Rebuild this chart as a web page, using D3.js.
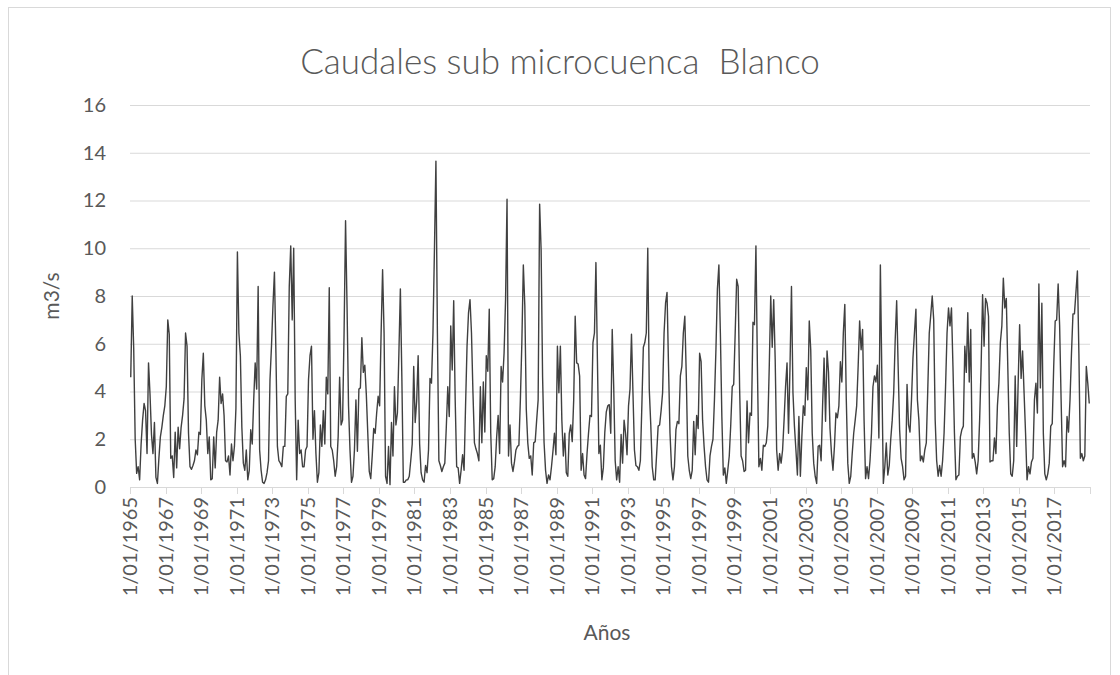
<!DOCTYPE html>
<html>
<head>
<meta charset="utf-8">
<script src="https://cdn.jsdelivr.net/npm/d3@7"></script>
<style>
  body { margin: 0; background: #ffffff; }
  svg text { font-family: Lato, "Open Sans", sans-serif; fill: #595959; }
</style>
</head>
<body>
<svg id="chart" width="1120" height="675"></svg>
<script>
// Monthly flows (m3/s), January 1965 onward, one row of 12 months per year
const startYear = 1965;
const flows1965s = [
  4.6, 8.0, 5.8, 2.0, 0.57, 0.85, 0.3, 1.8, 2.8, 3.5, 3.2, 1.4,
  5.2, 3.9, 2.2, 1.4, 2.7, 0.4, 0.15, 1.2, 2.1, 2.5, 3.0, 3.4,
  4.2, 7.0, 6.4, 1.2, 1.3, 0.4, 2.3, 0.8, 2.5, 1.6, 2.5, 3.0,
  3.7, 6.45, 5.9, 2.25, 0.85, 0.74, 0.9, 1.1, 1.55, 1.35, 2.3, 2.2,
  4.5, 5.6, 3.4, 2.8, 1.4, 2.1, 0.3, 0.35, 2.1, 0.8, 2.3, 2.8
];
const flows1970s = [
  4.6, 3.5, 3.9, 3.0, 1.1, 1.05, 1.3, 0.5, 1.8, 1.1, 1.7, 3.3,
  9.85, 6.45, 5.5, 2.5, 1.0, 0.7, 1.55, 0.3, 0.7, 2.4, 1.8, 3.65,
  5.2, 4.1, 8.4, 1.55, 0.7, 0.2, 0.15, 0.3, 0.6, 1.1, 4.5, 5.9,
  7.6, 9.0, 5.6, 1.7, 1.1, 1.0, 0.85, 1.7, 1.7, 3.8, 3.9, 8.4,
  10.1, 7.0, 10.0, 3.65, 0.3, 2.8, 1.4, 1.55, 0.85, 0.85, 1.55, 1.7,
  4.5, 5.5, 5.9, 2.0, 3.2, 1.4, 0.2, 0.6, 2.6, 1.7, 3.2, 1.8,
  4.6, 3.9, 8.35, 1.7, 1.55, 1.1, 0.45, 0.85, 2.1, 4.6, 2.6, 2.8,
  6.45, 11.15, 7.6, 3.4, 1.55, 0.2, 0.45, 1.55, 3.65, 1.5, 4.1, 4.15,
  6.25, 4.8, 5.1, 3.9, 2.25, 0.65, 0.35, 1.3, 2.45, 2.25, 3.1, 3.8,
  3.4, 6.45, 9.1, 6.45, 0.45, 0.15, 1.7, 0.1, 2.7, 1.3, 4.2, 2.6
];
const flows1980s = [
  3.1, 5.6, 8.3, 4.6, 0.2, 0.2, 0.3, 0.3, 0.45, 1.1, 1.8, 5.05,
  2.7, 3.6, 5.5, 1.8, 0.6, 0.3, 0.2, 0.9, 0.6, 1.55, 4.55, 4.35,
  6.45, 9.95, 13.65, 6.45, 1.1, 0.9, 0.65, 0.85, 1.0, 2.5, 4.2, 2.95,
  6.75, 4.9, 7.8, 3.65, 0.85, 0.8, 0.15, 0.7, 1.35, 0.7, 3.4, 5.9,
  7.3, 7.85, 6.45, 3.95, 1.85, 1.6, 1.4, 1.1, 4.2, 1.85, 4.4, 2.3,
  5.5, 4.85, 7.45, 2.25, 0.3, 0.35, 0.85, 2.1, 3.0, 1.4, 5.05, 4.4,
  5.6, 7.85, 12.05, 1.3, 2.6, 1.0, 0.65, 1.05, 1.55, 1.7, 1.75, 3.65,
  6.05, 9.3, 7.6, 3.25, 1.85, 1.2, 1.3, 0.5, 1.85, 1.9, 2.8, 3.65,
  11.85, 9.95, 4.6, 1.85, 0.7, 0.15, 0.5, 0.3, 0.85, 1.5, 2.25, 1.35,
  5.9, 3.95, 5.9, 2.8, 1.3, 2.25, 0.6, 0.45, 2.25, 2.6, 1.9, 3.65
];
const flows1990s = [
  7.15, 5.2, 5.15, 4.65, 0.7, 1.4, 0.5, 0.35, 1.4, 2.25, 3.0, 2.95,
  6.05, 6.45, 9.4, 5.35, 1.4, 1.75, 0.3, 0.8, 2.3, 3.15, 3.4, 3.45,
  2.25, 6.6, 4.2, 1.1, 0.3, 0.85, 0.2, 2.2, 1.0, 2.8, 2.25, 1.35,
  3.4, 4.1, 6.4, 3.95, 1.55, 0.9, 0.85, 0.7, 1.1, 3.4, 5.85, 6.05,
  6.45, 10.0, 4.1, 2.65, 0.85, 0.3, 0.3, 1.4, 2.55, 2.6, 3.2, 3.95,
  6.45, 7.7, 8.15, 5.05, 2.25, 0.85, 0.3, 0.85, 2.4, 2.75, 2.65, 4.65,
  5.05, 6.45, 7.15, 4.65, 1.3, 0.7, 0.35, 0.7, 2.75, 1.35, 3.0, 2.45,
  5.6, 5.25, 2.8, 1.7, 0.85, 0.3, 0.2, 1.3, 1.7, 2.0, 3.65, 5.75,
  8.3, 9.3, 6.45, 2.95, 0.5, 0.8, 0.15, 0.7, 1.3, 2.6, 4.2, 4.3,
  6.45, 8.7, 8.4, 4.1, 1.3, 1.1, 0.65, 0.7, 3.6, 1.85, 3.1, 3.0
];
const flows2000s = [
  6.9, 6.8, 10.1, 5.05, 0.85, 1.2, 0.7, 1.75, 1.7, 1.85, 2.55, 5.05,
  8.0, 5.85, 7.85, 5.35, 1.55, 0.7, 1.4, 1.0, 1.55, 2.8, 4.2, 5.2,
  2.25, 5.05, 8.4, 3.95, 2.55, 1.55, 0.5, 2.95, 0.45, 2.1, 3.4, 3.0,
  5.0, 3.65, 6.95, 5.75, 2.25, 1.0, 0.45, 0.15, 1.7, 1.75, 1.1, 3.4,
  5.4, 2.75, 5.7, 4.8, 2.45, 1.4, 0.7, 1.7, 3.1, 2.9, 3.4, 5.25,
  4.4, 6.45, 7.65, 3.65, 1.0, 0.15, 0.45, 1.4, 2.25, 2.8, 3.4, 5.05,
  6.95, 5.75, 6.6, 2.8, 0.35, 0.85, 0.35, 1.1, 2.25, 4.2, 4.65, 4.4,
  5.1, 2.05, 9.3, 4.65, 0.15, 0.85, 1.85, 0.5, 0.9, 2.0, 2.8, 3.95,
  6.15, 7.8, 5.05, 2.4, 1.2, 0.85, 0.3, 0.45, 4.3, 2.6, 2.3, 3.65,
  5.4, 6.45, 7.45, 3.65, 2.8, 1.1, 1.3, 1.05, 1.55, 1.85, 4.1, 6.45
];
const flows2010s = [
  7.2, 8.0, 7.0, 2.8, 1.1, 0.45, 0.9, 0.45, 1.1, 2.25, 4.2, 6.45,
  7.5, 6.75, 7.5, 5.05, 2.25, 0.3, 0.45, 0.5, 2.1, 2.4, 2.55, 5.9,
  4.8, 7.3, 4.4, 6.6, 1.2, 1.4, 1.05, 0.55, 1.1, 2.8, 5.05, 8.05,
  5.9, 7.9, 7.7, 7.15, 1.05, 1.1, 1.1, 2.05, 1.4, 3.4, 4.35, 6.05,
  6.75, 8.75, 7.5, 7.9, 5.05, 2.25, 0.55, 0.45, 1.1, 4.65, 1.7, 4.35,
  6.8, 4.55, 5.7, 3.95, 2.25, 0.3, 0.85, 0.55, 1.05, 1.2, 3.65, 4.35,
  3.1, 8.5, 4.15, 7.7, 2.25, 0.55, 0.3, 0.55, 1.0, 2.55, 2.65, 5.05,
  6.95, 7.0, 8.5, 6.75, 3.65, 0.85, 1.1, 0.85, 2.95, 2.3, 3.65, 5.6,
  7.25, 7.25, 8.15, 9.05, 5.6, 1.2, 1.4, 1.1, 1.3, 5.05, 4.35, 3.5
];

const yTicks = [0, 2, 4, 6, 8, 10, 12, 14, 16];
const labelEvery = 24; // one date label every two years
const chartTitle = "Caudales sub microcuenca  Blanco";
const yTitle = "m3/s";
const xTitle = "Años";

const flows = [].concat(flows1965s, flows1970s, flows1980s, flows1990s, flows2000s, flows2010s);
const dates = flows.map((_, i) => new Date(startYear, i, 1));
const fmt = d => `${d.getDate()}/${String(d.getMonth() + 1).padStart(2, "0")}/${d.getFullYear()}`;

const svg = d3.select("#chart");
const plot = { left: 130, right: 1090, top: 105, bottom: 487 };

// Outer chart frame
svg.append("rect")
  .attr("x", 8.5).attr("y", 7.5)
  .attr("width", 1102).attr("height", 690)
  .attr("fill", "#ffffff")
  .attr("stroke", "#d9d9d9").attr("stroke-width", 1);

const x = d3.scaleLinear().domain([0, flows.length]).range([plot.left, plot.right]);
const y = d3.scaleLinear().domain([0, 16]).range([plot.bottom, plot.top]);

// Horizontal gridlines and value labels
svg.append("g")
  .attr("transform", `translate(${plot.left},0)`)
  .call(d3.axisLeft(y).tickValues(yTicks).tickSize(-(plot.right - plot.left)).tickPadding(24))
  .call(g => g.select(".domain").remove())
  .call(g => g.selectAll(".tick line").attr("stroke", "#d9d9d9").attr("stroke-width", 1))
  .call(g => g.selectAll(".tick text")
    .style("font-size", "20px").style("font-family", "Lato, 'Open Sans', sans-serif")
    .attr("fill", "#595959"));

// Category axis: tick marks every two years, plus the closing edge
const tickIdx = d3.range(0, flows.length + 1, labelEvery);
const xAxis = svg.append("g").attr("transform", `translate(0,${plot.bottom})`);
xAxis.append("line")
  .attr("x1", plot.left).attr("x2", plot.right)
  .attr("y1", 0.5).attr("y2", 0.5)
  .attr("stroke", "#d9d9d9").attr("stroke-width", 1);
xAxis.selectAll("line.tick")
  .data(tickIdx)
  .join("line")
  .attr("class", "tick")
  .attr("x1", d => Math.round(x(d)) + 0.5).attr("x2", d => Math.round(x(d)) + 0.5)
  .attr("y1", 0).attr("y2", 7)
  .attr("stroke", "#d9d9d9").attr("stroke-width", 1);
xAxis.selectAll("text.lbl")
  .data(tickIdx.filter(d => d < flows.length))
  .join("text")
  .attr("class", "lbl")
  .attr("transform", d => `translate(${x(d) + 7},10) rotate(-90)`)
  .attr("text-anchor", "end")
  .style("font-size", "20px")
  .text(d => fmt(dates[d]));

// Flow series
const line = d3.line()
  .x((d, i) => x(i + 0.5))
  .y(d => y(d))
  .curve(d3.curveLinear);
svg.append("path")
  .datum(flows)
  .attr("d", line)
  .attr("fill", "none")
  .attr("stroke", "#404040")
  .attr("stroke-width", 1.4)
  .attr("stroke-linejoin", "round");

// Titles
svg.append("text")
  .attr("x", 560).attr("y", 74)
  .attr("text-anchor", "middle")
  .style("font-size", "35px")
  .style("font-weight", "300")
  .style("white-space", "pre")
  .text(chartTitle);

svg.append("text")
  .attr("transform", `translate(59,296) rotate(-90)`)
  .attr("text-anchor", "middle")
  .style("font-size", "21px")
  .text(yTitle);

svg.append("text")
  .attr("x", 607).attr("y", 640)
  .attr("text-anchor", "middle")
  .style("font-size", "21px")
  .text(xTitle);
</script>
</body>
</html>
